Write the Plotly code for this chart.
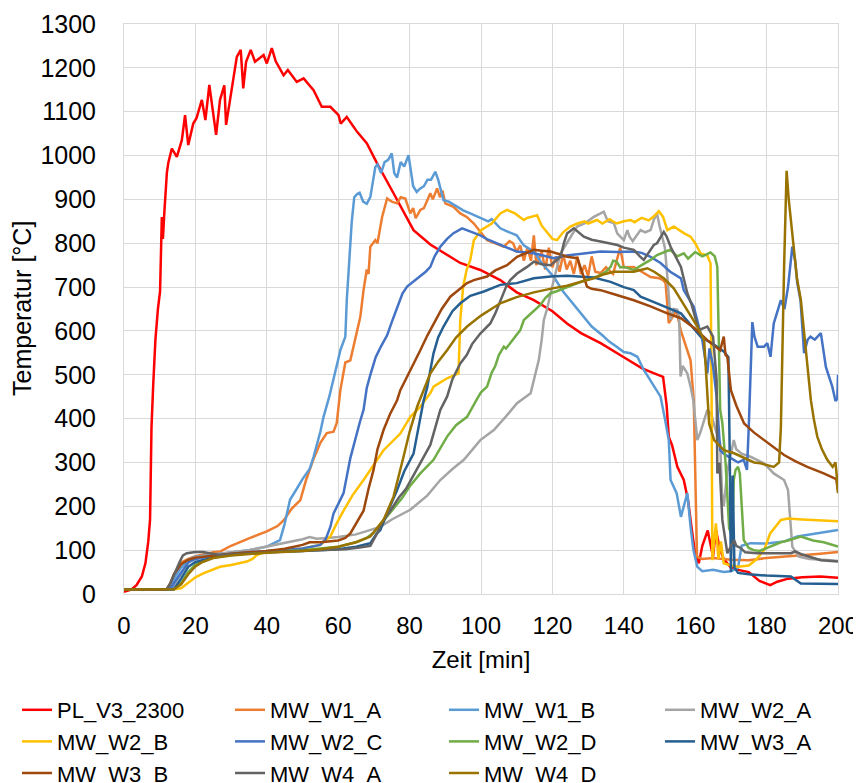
import plotly.graph_objects as go

# (time [min], temperature [°C])
PL_V3_2300 = [(0,5),(2,10),(3.5,20),(5,40),(6,70),(6.8,120),(7.3,170),(7.7,380),(8.2,480),(8.8,580),(9.5,650),(10.1,690),(10.6,860),(10.9,810),(11.3,870),(12,960),(12.4,983),(13.4,1016),(14.8,997),(16.2,1035),(17.1,1092),(18,1024),(19.4,1073),(20.3,1085),(21.8,1127),(22.8,1081),(23.9,1161),(25.8,1047),(26.9,1127),(28.1,1160),(28.6,1070),(30.7,1180),(31.6,1225),(32.7,1241),(33.4,1153),(34.2,1214),(35.5,1241),(36.7,1214),(39.1,1229),(40,1210),(41.4,1245),(42.5,1215),(44.7,1183),(45.9,1195),(48.4,1168),(50.3,1176),(53.1,1149),(55.4,1111),(57.8,1111),(60.1,1092),(60.7,1073),(62.4,1088),(65.3,1054),(68,1028),(70.9,982),(75.5,914),(81.1,830),(85.8,797),(90,775),(94.2,755),(99.8,739),(105.4,716),(110,688),(114.8,670),(120,645),(124.1,617),(128,595),(133.5,572),(140,540),(145,515),(148,505),(151,495),(152,430),(152.6,358),(153.5,340),(155,290),(156.8,260),(158,214),(159,150),(160,90),(161,70),(162,110),(163.5,145),(164.5,100),(165,85),(165.8,146),(167,100),(168,80),(170,60),(172,55),(175,50),(178,30),(181,20),(183,28),(186,35),(190,38),(195,40),(200,37)]
MW_W1_A = [(0,10),(12,11),(13,20),(14,45),(16,72),(18,80),(20,86),(22,90),(25,95),(27,97),(30,110),(35,127),(40,143),(43,155),(44.7,168),(47,195),(49.4,214),(51,260),(53,306),(55,345),(56.8,367),(58.7,370),(59.6,390),(60.6,465),(62,528),(63.4,533),(64.8,579),(66.2,632),(67.1,693),(68,740),(68.5,730),(69,792),(70.4,807),(71,800),(72.3,860),(73.7,902),(75,895),(76.5,891),(77.5,905),(78.8,902),(80.2,868),(81,880),(81.7,857),(83,876),(84,880),(85.8,914),(86.5,900),(87.7,925),(88.5,905),(89.2,920),(90,891),(92.3,883),(94.2,868),(96,860),(98,845),(100,825),(101.7,807),(104,800),(106.4,792),(108,805),(109,800),(110,780),(111,795),(112,760),(113,790),(114,760),(114.8,818),(115.5,750),(117,780),(118,740),(119,790),(120,745),(121,770),(122,735),(123,775),(124,740),(125,760),(126,730),(127,770),(128,730),(129,750),(130,725),(131,770),(132,735),(133.5,732),(135,745),(137,730),(139,790),(140,745),(142.8,746),(145,735),(147.5,723),(150,720),(151,716),(151.7,709),(152.6,618),(153.5,630),(154.7,647),(156,600),(157.5,560),(158.7,533),(159.6,442),(160.5,85),(162,80),(165,82),(170,78),(175,77),(180,82),(185,85),(190,88),(195,92),(200,96)]
MW_W1_B = [(0,10),(12,11),(13,20),(14,35),(16,60),(18,78),(20,85),(25,90),(30,95),(35,100),(40,108),(43.7,123),(45,160),(46.5,215),(48.4,240),(50,262),(52,285),(53.1,313),(55,370),(55.9,404),(57.5,450),(58.7,488),(60,535),(60.6,556),(62,587),(62.4,670),(63,750),(63.8,850),(64.5,905),(65.3,912),(66,915),(67,895),(68,890),(69,905),(70.4,974),(71,980),(72,960),(73,985),(74,990),(75,1005),(75.7,960),(76.5,950),(77.5,985),(78.5,975),(79.7,1001),(80.5,960),(81,930),(82,917),(83,925),(84,930),(85,945),(86,945),(87.2,963),(88,945),(89.5,898),(91,895),(93,885),(95,875),(97,868),(99.8,857),(102,850),(103,855),(105.4,834),(107,828),(110,818),(112,795),(114.8,781),(117,755),(120.4,723),(123,690),(125,670),(128.8,632),(131,610),(134,590),(136,575),(138,564),(140,552),(141.9,549),(143.8,541),(145.6,511),(148,480),(150.3,450),(151.5,400),(152.6,351),(153.1,260),(154.8,230),(156,176),(157,210),(157.8,230),(158.7,153),(159.5,100),(160.6,62),(162,52),(165,55),(168,50),(170,52),(172,60),(173,110),(175.5,116),(180,115),(185,120),(188.6,131),(192,135),(196,140),(200,146)]
MW_W2_A = [(0,10),(13,11),(14,20),(16,45),(18,72),(20,84),(25,90),(30,95),(35,100),(40,108),(45,116),(50,125),(52,130),(54,126),(57,128),(60,130),(65,136),(70,148),(71.8,153),(75,170),(80.2,192),(85,225),(88.6,260),(92,285),(95.2,306),(99.8,351),(103.6,374),(107,405),(110.1,435),(113.9,458),(114.6,480),(115.5,510),(116.2,534),(117,580),(117.6,625),(118.5,650),(119.5,686),(120.5,720),(122.3,777),(124.5,805),(126.9,838),(129,845),(131.6,860),(133.5,868),(134.4,872),(135.5,850),(137.2,846),(138.2,822),(140,807),(141,830),(141.6,815),(142.5,805),(144.7,830),(146,825),(147.5,830),(148.4,853),(149.3,868),(150,840),(151.5,790),(152.2,724),(153.1,625),(154,650),(155,648),(155.5,632),(155.9,496),(156.5,520),(157.8,503),(158.7,473),(159.5,440),(160.6,351),(161.5,370),(163.4,420),(164.5,410),(165.5,380),(167,344),(167.5,230),(168,200),(169,280),(170.8,351),(171.5,330),(173,320),(175.5,313),(179.3,298),(182,275),(184.9,260),(186,237),(187.2,108),(189,85),(192,80),(198,77),(200,75)]
MW_W2_B = [(0,10),(14,11),(16,13),(18,25),(20,38),(22.2,47),(25,57),(26.9,62),(30,66),(34.4,74),(36,80),(37.2,89),(40,98),(45,100),(50,104),(55,112),(57.8,131),(59.5,160),(61.5,190),(64,225),(67.1,260),(70,295),(72.7,328),(77.4,366),(80.2,404),(83,427),(85.8,458),(86.7,473),(89.5,488),(90.5,492),(93.7,503),(94.2,625),(95,701),(96,740),(97,762),(98,807),(100,830),(101.7,838),(103,845),(105.4,868),(106.8,875),(107.3,876),(109.5,868),(111,860),(112,853),(113,858),(115.7,864),(117,840),(119,820),(120,810),(121.3,807),(123,825),(125,838),(127,845),(129,850),(130,845),(132.5,853),(134,845),(136,855),(138,845),(140,850),(141.9,853),(143,848),(145,858),(147,852),(148.5,862),(149.8,873),(151,860),(152.2,830),(154,838),(156.8,823),(158.7,815),(160,800),(161.5,777),(163.4,772),(164.3,754),(164.6,442),(164.8,77),(165.8,161),(166.5,80),(167.2,120),(168,70),(170,65),(172,62),(175,65),(177,78),(179.3,100),(181,138),(184,169),(186,172),(190,170),(195,168),(200,166)]
MW_W2_C = [(0,10),(13,11),(14,25),(16,50),(18,72),(20,80),(25,87),(30,92),(35,95),(40,97),(45,100),(50,104),(55,112),(56.5,125),(57.8,153),(58.7,184),(60,205),(61.5,230),(63.4,310),(64.3,340),(66,390),(67.1,420),(68,470),(69,500),(70.5,540),(72,565),(73.7,590),(75,620),(76.5,655),(78,685),(79.3,701),(81,712),(83,724),(84.5,735),(85.8,746),(87,770),(88.6,792),(90.5,810),(92.3,823),(94.7,834),(96,830),(97.5,825),(99.8,818),(102,808),(105.4,796),(110,781),(114.8,777),(117,772),(120.4,766),(124,772),(128.8,777),(133.5,781),(138,780),(142.8,781),(145,778),(147.5,769),(150.3,755),(153,735),(156,720),(156.8,693),(159.6,655),(162,579),(163.4,503),(164,560),(165,520),(166,450),(167,328),(168,320),(170,310),(172,300),(173.6,306),(174.5,283),(175,380),(176,620),(176.6,587),(177.5,564),(179.3,564),(180.2,572),(181.1,541),(182,617),(184,670),(185,650),(186,700),(187.2,792),(188,760),(188.6,709),(189.5,670),(190.5,549),(191.5,580),(192.3,587),(193.5,580),(195.2,595),(196.6,518),(198.4,473),(199.3,440),(199.8,445),(200,500)]
MW_W2_D = [(0,10),(14,11),(16,25),(18,50),(20,67),(22,75),(25,83),(30,89),(35,93),(40,96),(45,98),(50,100),(55,104),(60,108),(65,118),(68,128),(70,140),(72,160),(74.6,184),(78,220),(80,245),(83,275),(86.7,306),(88,325),(90.5,359),(93,385),(96.1,404),(98.9,445),(100,460),(101.7,473),(103,505),(104,520),(105,545),(106.4,564),(107,560),(108,570),(110,590),(111,602),(112,625),(114,640),(116.7,660),(118,675),(119.5,686),(121,690),(124.1,700),(127,710),(130,718),(132.5,724),(135,735),(136.3,746),(137,760),(138,758),(139,745),(140,746),(142.8,739),(145,750),(147.5,762),(149.3,773),(151,778),(153,785),(155,770),(156.8,777),(158,765),(160,780),(162,770),(164.3,779),(165.5,770),(166.2,746),(167,420),(167.6,390),(168.5,300),(169.5,150),(170.4,130),(170.8,260),(171.3,283),(172,290),(172.5,275),(173.6,123),(175,105),(176.4,100),(178,98),(180,105),(182,112),(184,118),(186,122),(189.6,131),(193,122),(196,118),(200,108)]
MW_W3_A = [(0,10),(14,11),(16,35),(18,62),(20,73),(25,83),(30,90),(40,95),(50,98),(57.8,100),(60,102),(65,108),(69,116),(70.8,138),(71.8,146),(74,190),(76.5,237),(78.5,280),(81.1,320),(83.9,440),(84.9,470),(85.8,510),(86.7,549),(88,585),(89.5,610),(92,645),(94.2,663),(97,680),(100.8,690),(105.4,705),(110,709),(114.8,720),(119.5,724),(124.1,726),(128,724),(131.6,722),(136.3,712),(140,700),(142.8,693),(144.7,678),(149.3,663),(154,648),(156,640),(161.5,587),(165,570),(168,553),(169.3,540),(169.7,300),(170,50),(170.5,270),(171,60),(172,48),(175,45),(180,42),(184,40),(186.8,40),(189.6,24),(195,23),(200,23)]
MW_W3_B = [(0,10),(12,11),(13,25),(14,45),(16,68),(18,78),(20,83),(25,88),(30,92),(35,95),(40,98),(45,103),(50,112),(52,118),(55,118),(60,122),(62,128),(63.4,138),(65,160),(67.1,190),(68.5,240),(69.9,283),(71,330),(72.7,374),(74.5,410),(76.5,442),(77.4,465),(79.3,495),(81,525),(83,556),(85,590),(86.7,617),(89,650),(91.4,678),(94,695),(96.1,709),(98,716),(101.7,724),(104,738),(107.3,750),(110.1,769),(112.5,778),(114.8,785),(117,783),(119.5,781),(122,775),(124.1,769),(127,766),(127.9,746),(129.7,701),(131,696),(133.5,693),(138,682),(142.8,670),(147.5,656),(152.2,640),(156,629),(160,605),(163.4,579),(167,556),(168,587),(168.5,545),(169,541),(170,465),(171.5,430),(173.7,389),(176.5,368),(179.3,351),(182,333),(184.9,317),(188,303),(191.4,290),(196,275),(199.5,262),(200,235)]
MW_W4_A = [(0,10),(12,11),(13,25),(14.5,55),(15.7,75),(16.5,88),(17.6,93),(20,96),(22.2,96),(24,93),(26.9,89),(30,90),(35,93),(40,95),(45,97),(50,98),(55,99),(57.8,100),(62,102),(66,106),(69,110),(71,140),(72.8,170),(74.6,190),(77,220),(79,240),(81.1,270),(83,300),(85.8,340),(88.6,420),(90.5,450),(92,490),(94.2,526),(96,545),(97.5,570),(99.8,594),(102.6,617),(104,640),(105.4,670),(107,700),(108.2,716),(110.1,731),(112.9,746),(114.8,758),(117,752),(119.5,750),(122.3,769),(123.2,800),(124.1,822),(126,834),(128.8,815),(131,808),(133.5,804),(136,800),(138.2,796),(140,790),(142.8,785),(144.5,770),(145.6,762),(148.4,796),(149.3,800),(151.2,826),(152,815),(153.1,792),(156,746),(157.8,686),(159,660),(161,602),(162,605),(163.4,610),(165,587),(165.6,534),(166,488),(166.2,275),(166.8,300),(167.6,169),(169,93),(170.9,123),(171.5,110),(172.7,105),(174,95),(177.4,93),(182,93),(186.8,93),(188,97),(190,90),(195.2,77),(200,74)]
MW_W4_D = [(0,10),(14,11),(16,22),(18,45),(20,63),(22,73),(25,82),(30,88),(40,94),(50,98),(55,102),(60,108),(65,118),(69,131),(72.7,169),(75.5,222),(78.3,313),(80,370),(82.1,427),(84.9,488),(85.8,503),(88,530),(90.5,556),(93,585),(96.1,610),(100,635),(105.4,663),(110,677),(114.8,688),(120,697),(124.1,703),(128,712),(131.6,720),(134,728),(137.2,735),(140,735),(142.8,735),(144.7,739),(146.6,743),(148.5,735),(150.3,724),(151.2,720),(154,697),(157.8,648),(160.6,610),(162.5,579),(163.4,442),(163.9,389),(165.3,351),(166.5,340),(168,328),(170.9,321),(172.5,315),(174.6,306),(176.5,300),(178.3,298),(180,295),(182,290),(183.5,300),(184,380),(184.9,746),(185.6,965),(186.2,900),(187.7,785),(188.5,720),(189.6,670),(190.5,600),(191.4,534),(192.4,442),(193.2,400),(194.2,359),(195.5,330),(197,306),(198.5,290),(199.3,300),(199.7,265),(200,230)]

series_names = ["PL_V3_2300", "MW_W1_A", "MW_W1_B", "MW_W2_A", "MW_W2_B", "MW_W2_C",
                "MW_W2_D", "MW_W3_A", "MW_W3_B", "MW_W4_A", "MW_W4_D"]
series_data = [PL_V3_2300, MW_W1_A, MW_W1_B, MW_W2_A, MW_W2_B, MW_W2_C,
               MW_W2_D, MW_W3_A, MW_W3_B, MW_W4_A, MW_W4_D]
series_colors = ["#FF0000", "#ED7D31", "#5B9BD5", "#A5A5A5", "#FFC000", "#4472C4",
                 "#70AD47", "#255E91", "#9E480E", "#636363", "#997300"]

x_ticks = [0, 20, 40, 60, 80, 100, 120, 140, 160, 180, 200]
y_ticks = [0, 100, 200, 300, 400, 500, 600, 700, 800, 900, 1000, 1100, 1200, 1300]

FONT = "Liberation Sans, Arial, sans-serif"

# the page body adds an 8px offset; size the figure so the visible 861x783 view matches
W, H = 853, 775
ML, MR, MT, MB = 116, 23, 16, 189
legend_ids = ["legend", "legend2", "legend3", "legend4"]
legend_x_px = [9, 222, 436, 652]

fig = go.Figure()
for i, (name, data, color) in enumerate(zip(series_names, series_data, series_colors)):
    fig.add_trace(go.Scatter(
        x=[p[0] for p in data], y=[p[1] for p in data],
        mode="lines", name=name,
        line=dict(color=color, width=2.5),
        legend=legend_ids[i % 4],
    ))

legend_common = dict(
    orientation="v", xref="container", yref="container",
    y=0.1213, xanchor="left", yanchor="top",
    font=dict(family=FONT, size=22, color="#000000"),
    itemwidth=30, tracegroupgap=0, bgcolor="rgba(0,0,0,0)",
)
legend_layout = {}
for lid, xpx in zip(legend_ids, legend_x_px):
    legend_layout[lid] = dict(legend_common, x=xpx / W)

plot_w = W - ML - MR
fig.add_annotation(
    text="Temperatur [°C]", xref="paper", yref="paper",
    x=(14 - ML) / plot_w, y=0.5, xanchor="center", yanchor="middle",
    textangle=-90, showarrow=False,
    font=dict(family=FONT, size=25, color="#000000"),
)

fig.update_layout(
    width=W, height=H,
    margin=dict(l=ML, r=MR, t=MT, b=MB, autoexpand=False),
    paper_bgcolor="white", plot_bgcolor="white",
    font=dict(family=FONT, color="#000000", size=24),
    showlegend=True,
    xaxis=dict(
        range=[0, 200], tickvals=x_ticks, ticktext=[str(v) for v in x_ticks],
        showgrid=True, gridcolor="#D9D9D9", gridwidth=1, automargin=False,
        zeroline=False, showline=True, linecolor="#D9D9D9", linewidth=1, mirror=True,
        ticks="", ticklabelstandoff=10, ticklabeloverflow="allow",
        tickfont=dict(family=FONT, size=24, color="#000000"),
        title=dict(text="Zeit [min]", font=dict(family=FONT, size=24, color="#000000"), standoff=13),
    ),
    yaxis=dict(
        range=[0, 1300], tickvals=y_ticks, ticktext=[str(v) for v in y_ticks],
        showgrid=True, gridcolor="#D9D9D9", gridwidth=1, automargin=False,
        zeroline=False, showline=True, linecolor="#D9D9D9", linewidth=1, mirror=True,
        ticks="", ticklabelstandoff=22, ticklabeloverflow="allow",
        tickfont=dict(family=FONT, size=25, color="#000000"),
    ),
    **legend_layout,
)

fig.write_html("out.html")
